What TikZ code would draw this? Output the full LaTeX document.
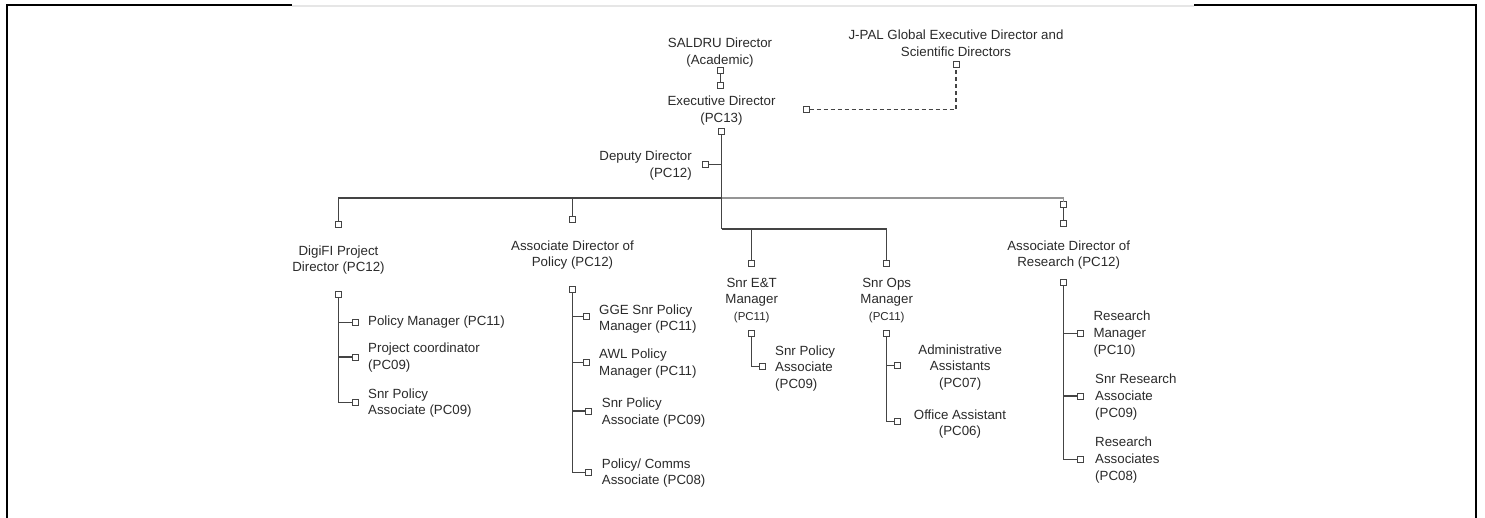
\documentclass[tikz,border=0pt]{standalone}
\usepackage{fontspec}
\setmainfont{Liberation Sans}
\definecolor{txt}{HTML}{2A2A2A}
\definecolor{ln}{HTML}{444444}
\definecolor{lnlight}{HTML}{959595}
\definecolor{frgray}{HTML}{E6E6E6}
\begin{document}
\begin{tikzpicture}[x=1pt,y=-1pt,
  lbl/.style={inner sep=0pt,text=txt,align=center,font=\fontsize{13.3}{16.8}\selectfont},
  lblw/.style={lbl,align=left,anchor=west},
  sq/.style={draw=ln,fill=white,line width=1pt,minimum size=6pt,inner sep=0pt,outer sep=0pt},
  con/.style={draw=ln,line width=1.4pt},
  conlight/.style={draw=lnlight,line width=1.4pt},
  dashcon/.style={draw=ln,line width=1.3pt,dash pattern=on 4pt off 3pt}]
\useasboundingbox (0,0) rectangle (1485,518);
% frame
\draw[black,line width=2.2pt] (7,518) -- (7,5) -- (292,5);
\draw[frgray,line width=2.6pt] (292,6) -- (1194,6);
\draw[black,line width=2.2pt] (1194,5) -- (1476,5) -- (1476,518);

% top level
\node[lbl] (saldru) at (720,52.5) {SALDRU Director\\(Academic)};
\node[sq] (saldruS) at (720.5,71) {};
\node[sq] (execN) at (720.5,86) {};
\node[lbl] (exec) at (721.5,110.5) {Executive Director\\(PC13)};
\node[sq] (execS) at (721.5,132) {};
\node[sq] (execE) at (806.5,109.5) {};
\node[lbl] (jpal) at (956,43.5) {J-PAL Global Executive Director and\\Scientific Directors};
\node[sq] (jpalS) at (956,65) {};
\draw[dashcon] (execE) -| (jpalS);
\draw[con] (saldruS) -- (execN);

\node[lbl,align=right,anchor=east] (deputy) at (692,165.5) {Deputy Director\\(PC12)};
\node[sq] (deputyE) at (705.5,164.5) {};

\coordinate (bus) at (721.5,198);
\coordinate (bus2) at (721.5,229);
\draw[con] (execS) -- (bus2);
\draw[con] (deputyE) -- (deputyE -| bus);

% second level squares
\node[sq] (digiN) at (338.5,225) {};
\node[sq] (polN) at (572.5,219.5) {};
\node[sq] (etN) at (751.7,263.5) {};
\node[sq] (opsN) at (886.7,263.5) {};
\node[sq] (resA) at (1063.3,205) {};
\node[sq] (resN) at (1063.3,224) {};
\draw[con] (bus) -| (digiN);
\draw[con] (bus) -| (polN);
\draw[conlight] (bus) -| (resA);
\draw[con] (resA) -- (resN);
\draw[con] (bus2) -| (etN);
\draw[con] (bus2) -| (opsN);

% second level labels
\node[lbl] (digi) at (338.5,260) {DigiFI Project\\Director (PC12)};
\node[lbl] (pol) at (572.5,255) {Associate Director of\\Policy (PC12)};
\node[lbl] (et) at (751.7,300.5) {Snr E\&T\\Manager\\{\fontsize{11.5}{14}\selectfont(PC11)}};
\node[lbl] (ops) at (886.7,300.5) {Snr Ops\\Manager\\{\fontsize{11.5}{14}\selectfont(PC11)}};
\node[lbl] (res) at (1068.7,255) {Associate Director of\\Research (PC12)};

% DigiFI children
\node[sq] (digiS) at (338.5,294.5) {};
\node[sq] (dg1) at (355,322.5) {};
\node[sq] (dg2) at (355,357) {};
\node[sq] (dg3) at (355,402.5) {};
\draw[con] (digiS) |- (dg1);
\draw[con] (digiS) |- (dg2);
\draw[con] (digiS) |- (dg3);
\node[lblw] (dg1t) at (368,322.5) {Policy Manager (PC11)};
\node[lblw] (dg2t) at (368,357.5) {Project coordinator\\(PC09)};
\node[lblw] (dg3t) at (368,403) {Snr Policy\\Associate (PC09)};

% Policy children
\node[sq] (polS) at (572.5,289.5) {};
\node[sq] (po1) at (586,316.7) {};
\node[sq] (po2) at (586,362.7) {};
\node[sq] (po3) at (588.3,411) {};
\node[sq] (po4) at (588.3,472.3) {};
\draw[con] (polS) |- (po1);
\draw[con] (polS) |- (po2);
\draw[con] (polS) |- (po3);
\draw[con] (polS) |- (po4);
\node[lblw] (po1t) at (599,319) {GGE Snr Policy\\Manager (PC11)};
\node[lblw] (po2t) at (599,363.5) {AWL Policy\\Manager (PC11)};
\node[lblw] (po3t) at (601.7,412.5) {Snr Policy\\Associate (PC09)};
\node[lblw] (po4t) at (601.7,473) {Policy/ Comms\\Associate (PC08)};

% E&T children
\node[sq] (etS) at (751.7,333.5) {};
\node[sq] (et1) at (762.7,366.7) {};
\draw[con] (etS) |- (et1);
\node[lblw] (et1t) at (775,368.5) {Snr Policy\\Associate\\(PC09)};

% Ops children
\node[sq] (opsS) at (886.7,333.5) {};
\node[sq] (op1) at (897.7,365.7) {};
\node[sq] (op2) at (897.7,421.7) {};
\draw[con] (opsS) |- (op1);
\draw[con] (opsS) |- (op2);
\node[lbl] (op1t) at (960.2,367.5) {Administrative\\Assistants\\(PC07)};
\node[lbl] (op2t) at (960,424) {Office Assistant\\(PC06)};

% Research children
\node[sq] (resS) at (1063.3,282.5) {};
\node[sq] (re1) at (1080,333.3) {};
\node[sq] (re2) at (1080,396) {};
\node[sq] (re3) at (1080,459.3) {};
\draw[con] (resS) |- (re1);
\draw[con] (resS) |- (re2);
\draw[con] (resS) |- (re3);
\node[lblw] (re1t) at (1093.3,334) {Research\\Manager\\(PC10)};
\node[lblw] (re2t) at (1095,397) {Snr Research\\Associate\\(PC09)};
\node[lblw] (re3t) at (1095,460) {Research\\Associates\\(PC08)};
\end{tikzpicture}
\end{document}
